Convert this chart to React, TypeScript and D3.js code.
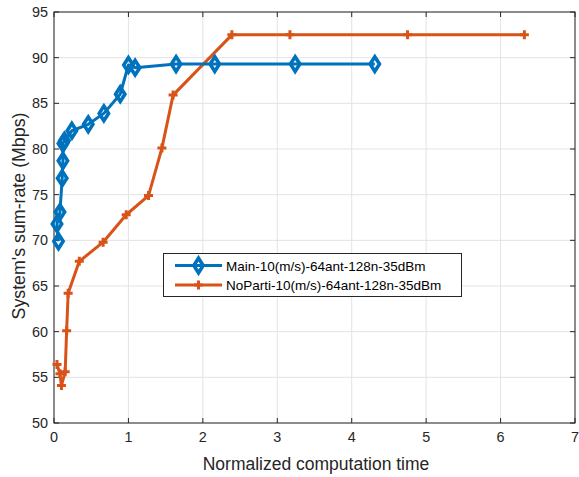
import React from "react";
import * as d3 from "d3";

// Main scheme: normalized computation time vs. sum-rate
const mainTime = [0.06, 0.04, 0.08, 0.11, 0.12, 0.12, 0.14, 0.24, 0.46, 0.67, 0.89, 1.0, 1.09, 1.64, 2.16, 3.24, 4.31];
const mainRate = [69.9, 71.8, 73.1, 76.8, 78.7, 80.6, 80.9, 82.0, 82.7, 83.9, 86.0, 89.2, 88.9, 89.3, 89.3, 89.3, 89.3];

// No-partition scheme
const noPartiTime = [0.04, 0.08, 0.1, 0.15, 0.17, 0.19, 0.34, 0.66, 0.97, 1.27, 1.45, 1.6, 2.39, 3.17, 4.75, 6.32];
const noPartiRate = [56.4, 55.4, 54.1, 55.6, 60.1, 64.2, 67.7, 69.8, 72.8, 74.9, 80.1, 85.9, 92.5, 92.5, 92.5, 92.5];

const xTicks = [0, 1, 2, 3, 4, 5, 6, 7];
const yTicks = [50, 55, 60, 65, 70, 75, 80, 85, 90, 95];

const seriesNames = ["Main-10(m/s)-64ant-128n-35dBm", "NoParti-10(m/s)-64ant-128n-35dBm"];
const BLUE = "#0072BD";
const ORANGE = "#D95319";

const W = 579;
const H = 477;
const left = 54;
const right = 575;
const top = 12;
const bottom = 423;

export default function App() {
  const x = d3.scaleLinear().domain([0, 7]).range([left, right]);
  const y = d3.scaleLinear().domain([50, 95]).range([bottom, top]);
  const line = d3
    .line<[number, number]>()
    .x((d) => x(d[0]))
    .y((d) => y(d[1]));

  const mainPts: [number, number][] = mainTime.map((t, i) => [t, mainRate[i]]);
  const noPts: [number, number][] = noPartiTime.map((t, i) => [t, noPartiRate[i]]);

  const diamond = (cx: number, cy: number, r: number) =>
    `M${cx},${cy - r}L${cx + r * 0.64},${cy}L${cx},${cy + r}L${cx - r * 0.64},${cy}Z`;
  const plus = (cx: number, cy: number, r: number) =>
    `M${cx - r},${cy}L${cx + r},${cy}M${cx},${cy - r}L${cx},${cy + r}`;

  const font = "'Liberation Sans', Arial, Helvetica, sans-serif";
  const axisColor = "#262626";

  return (
    <svg width={W} height={H} style={{ position: "absolute", left: 0, top: 0, background: "#fff" }}>
      <rect x={0} y={0} width={W} height={H} fill="#fff" />
      {/* grid */}
      {xTicks.map((t) => (
        <line key={"gx" + t} x1={x(t)} x2={x(t)} y1={top} y2={bottom} stroke="#e3e3e3" strokeWidth={1} />
      ))}
      {yTicks.map((t) => (
        <line key={"gy" + t} x1={left} x2={right} y1={y(t)} y2={y(t)} stroke="#e3e3e3" strokeWidth={1} />
      ))}
      {/* ticks */}
      {xTicks.map((t) => (
        <g key={"tx" + t}>
          <line x1={x(t)} x2={x(t)} y1={bottom} y2={bottom - 5} stroke={axisColor} />
          <line x1={x(t)} x2={x(t)} y1={top} y2={top + 5} stroke={axisColor} />
          <text x={x(t)} y={bottom + 19} textAnchor="middle" fontSize={14.4} fontFamily={font} fill={axisColor}>
            {t}
          </text>
        </g>
      ))}
      {yTicks.map((t) => (
        <g key={"ty" + t}>
          <line x1={left} x2={left + 5} y1={y(t)} y2={y(t)} stroke={axisColor} />
          <line x1={right} x2={right - 5} y1={y(t)} y2={y(t)} stroke={axisColor} />
          <text x={left - 6} y={y(t) + 5} textAnchor="end" fontSize={14.4} fontFamily={font} fill={axisColor}>
            {t}
          </text>
        </g>
      ))}
      {/* box */}
      <rect x={left} y={top} width={right - left} height={bottom - top} fill="none" stroke={axisColor} strokeWidth={1} />

      {/* series */}
      <path d={line(noPts) || ""} fill="none" stroke={ORANGE} strokeWidth={3} strokeLinejoin="round" />
      {noPts.map((p, i) => (
        <path key={"np" + i} d={plus(x(p[0]), y(p[1]), 4.5)} stroke={ORANGE} strokeWidth={3} fill="none" />
      ))}
      <path d={line(mainPts) || ""} fill="none" stroke={BLUE} strokeWidth={3} strokeLinejoin="round" />
      {mainPts.map((p, i) => (
        <path key={"mp" + i} d={diamond(x(p[0]), y(p[1]), 7.3)} stroke={BLUE} strokeWidth={3.6} fill="none" strokeLinejoin="miter" />
      ))}

      {/* axis labels */}
      <text x={316} y={470} textAnchor="middle" fontSize={17.5} fontFamily={font} fill={axisColor}>
        Normalized computation time
      </text>
      <text
        transform={`translate(25,216) rotate(-90)`}
        textAnchor="middle"
        fontSize={17.8}
        fontFamily={font}
        fill={axisColor}
      >
        System's sum-rate (Mbps)
      </text>

      {/* legend */}
      <g>
        <rect x={163.5} y={253.5} width={298} height={43} fill="#fff" stroke={axisColor} strokeWidth={1} />
        <line x1={175} x2={222} y1={265.5} y2={265.5} stroke={BLUE} strokeWidth={3} />
        <path d={diamond(198.5, 265.5, 7.3)} stroke={BLUE} strokeWidth={3.6} fill="none" />
        <text x={226} y={270.5} fontSize={13.5} fontFamily={font} fill="#000">
          {seriesNames[0]}
        </text>
        <line x1={175} x2={222} y1={285} y2={285} stroke={ORANGE} strokeWidth={3} />
        <path d={plus(198.5, 285, 4.5)} stroke={ORANGE} strokeWidth={3} fill="none" />
        <text x={226} y={290} fontSize={13.5} fontFamily={font} fill="#000">
          {seriesNames[1]}
        </text>
      </g>
    </svg>
  );
}
